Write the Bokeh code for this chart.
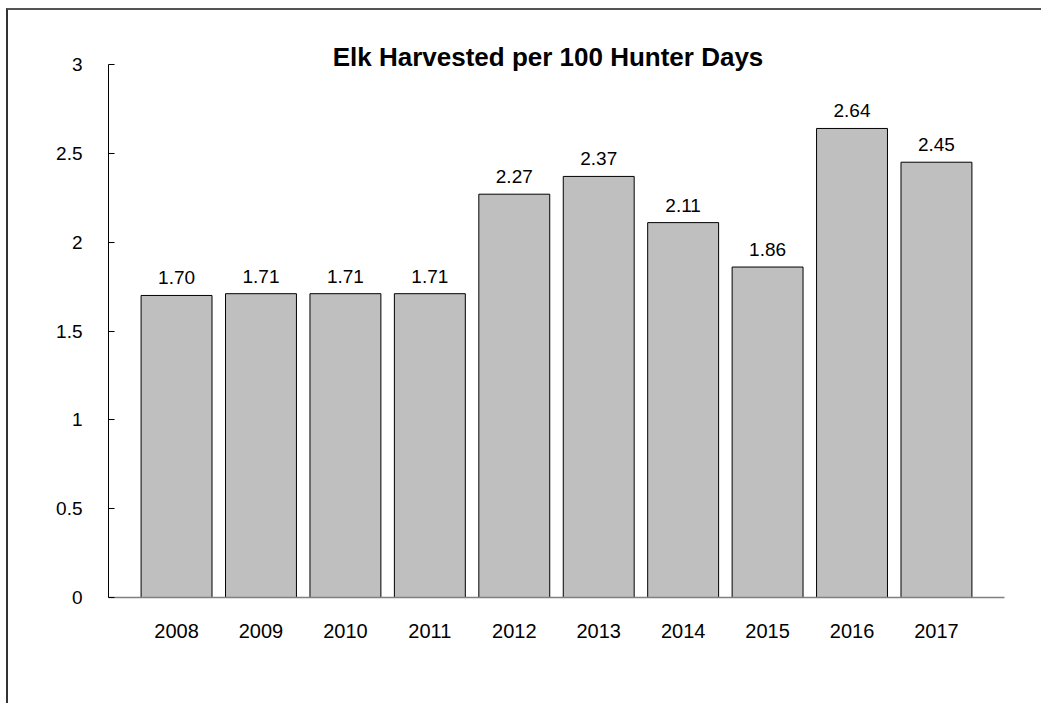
from bokeh.plotting import figure
from bokeh.models import ColumnDataSource, FactorRange, Range1d, FixedTicker, Label, LabelSet
from bokeh.core.properties import value
from bokeh.embed import file_html
from bokeh.resources import INLINE

years = ["2008", "2009", "2010", "2011", "2012", "2013", "2014", "2015", "2016", "2017"]
values = [1.70, 1.71, 1.71, 1.71, 2.27, 2.37, 2.11, 1.86, 2.64, 2.45]
y_ticks = [0, 0.5, 1, 1.5, 2, 2.5, 3]
y_tick_labels = ["0", "0.5", "1", "1.5", "2", "2.5", "3"]
title_text = "Elk Harvested per 100 Hunter Days"

FONT = "Liberation Sans"

src = ColumnDataSource(dict(year=years, value=values,
                            label=["%.2f" % v for v in values]))

# frame: 567 px tall, axis drawn 0..3 over 533 px
y_top = 3 * 567 / 533

p = figure(x_range=FactorRange(*years, range_padding=0.306, range_padding_units="absolute"),
           y_range=Range1d(0, y_top),
           width=1035, height=695,
           output_backend="svg", toolbar_location=None,
           min_border_left=100, min_border_top=20, min_border_right=39, min_border_bottom=108)
p.styles = {"border-left": "2px solid #333333", "border-top": "2px solid #555555",
            "margin-left": "6px", "margin-top": "8px"}
p.outline_line_color = None
p.xgrid.grid_line_color = None
p.ygrid.grid_line_color = None
p.background_fill_color = "white"
p.border_fill_color = "white"

p.vbar(x="year", top="value", width=0.84, source=src,
       fill_color="#bfbfbf", line_color="black", line_width=1)

labels = LabelSet(x="year", y="value", text="label", source=src,
                  text_align="center", text_baseline="alphabetic", y_offset=11,
                  text_font=value(FONT), text_font_size=value("19px"), text_color="black")
p.add_layout(labels)

p.add_layout(Label(x=5.0, y=3, text=title_text, text_align="center",
                   text_baseline="alphabetic", x_offset=-8.5, y_offset=8,
                   text_font=FONT, text_font_style="bold", text_font_size="26px",
                   text_color="black"))

p.yaxis.ticker = FixedTicker(ticks=y_ticks)
p.yaxis.bounds = (0, 3)
p.yaxis.major_label_overrides = {t: l for t, l in zip(y_ticks, y_tick_labels)}
p.yaxis.axis_line_color = "black"
p.yaxis.major_tick_in = 6
p.yaxis.major_tick_out = 0
p.yaxis.minor_tick_line_color = None
p.yaxis.major_label_standoff = 26
p.yaxis.major_label_text_font = FONT
p.yaxis.major_label_text_font_size = "19px"
p.yaxis.major_label_text_color = "black"

p.xaxis.axis_line_color = "#808080"
p.xaxis.axis_line_width = 1.5
p.xaxis.major_tick_line_color = None
p.xaxis.minor_tick_line_color = None
p.xaxis.major_label_standoff = 20
p.xaxis.major_label_text_font = FONT
p.xaxis.major_label_text_font_size = "20px"
p.xaxis.major_label_text_color = "black"

open("out.html", "w").write(file_html(p, INLINE))
